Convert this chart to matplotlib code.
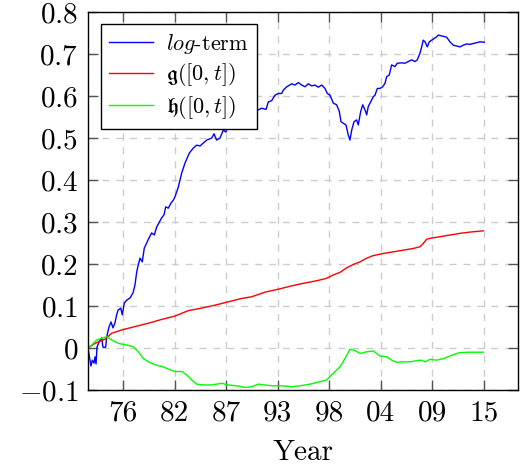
import matplotlib
matplotlib.use("Agg")
import matplotlib.pyplot as plt

plt.rcParams.update({
    "font.family": "serif", "font.serif": ["cmr10"], "mathtext.fontset": "cm",
    "axes.unicode_minus": False, "font.size": 21,
    "axes.linewidth": 1.0,
})

# log-term (blue)
log_year = [1972.20, 1972.52, 1972.67, 1972.85, 1972.96, 1973.07, 1973.17, 1973.39, 1973.68, 1973.82,
            1974.11, 1974.22, 1974.47, 1974.69, 1974.90, 1975.12, 1975.30, 1975.45, 1975.74, 1975.91,
            1976.13, 1976.39, 1976.74, 1977.07, 1977.28, 1977.47, 1977.64, 1977.83, 1978.07, 1978.29,
            1978.55, 1978.80, 1979.09, 1979.37, 1979.63, 1979.88, 1980.17, 1980.42, 1980.61, 1980.89,
            1981.18, 1981.43, 1981.61, 1981.97, 1982.34, 1982.69, 1983.16, 1983.59, 1983.96, 1984.32,
            1984.67, 1985.04, 1985.58, 1985.83, 1986.12, 1986.48, 1986.84, 1987.13, 1987.38, 1987.75,
            1988.64, 1989.72, 1990.62, 1990.99, 1991.46, 1991.71, 1992.07, 1992.43, 1992.79, 1993.15,
            1993.33, 1993.70, 1994.24, 1994.59, 1994.95, 1995.32, 1995.68, 1996.03, 1996.40, 1996.76,
            1997.11, 1997.48, 1997.84, 1998.09, 1998.38, 1998.74, 1999.10, 1999.39, 1999.57, 1999.82,
            2000.11, 2000.36, 2000.54, 2000.73, 2000.98, 2001.27, 2001.44, 2001.70, 2001.92, 2002.17,
            2002.35, 2002.52, 2002.78, 2003.06, 2003.25, 2003.50, 2003.79, 2004.08, 2004.33, 2004.51,
            2004.79, 2005.05, 2005.41, 2005.66, 2006.14, 2006.49, 2006.85, 2007.22, 2007.57, 2007.82,
            2008.12, 2008.30, 2008.47, 2008.66, 2008.91, 2009.12, 2009.38, 2009.63, 2009.92, 2010.10,
            2010.46, 2011.00, 2011.36, 2011.72, 2012.09, 2012.44, 2012.80, 2013.17, 2013.52, 2013.88,
            2014.25, 2014.61, 2015.07]
log_val = [0.000, -0.043, -0.029, -0.036, -0.021, -0.038, 0.002, 0.014, 0.024, 0.002,
           0.002, 0.026, 0.050, 0.062, 0.048, 0.060, 0.079, 0.090, 0.095, 0.079,
           0.107, 0.114, 0.119, 0.131, 0.150, 0.181, 0.198, 0.214, 0.205, 0.238,
           0.250, 0.262, 0.274, 0.269, 0.288, 0.298, 0.310, 0.317, 0.336, 0.333,
           0.345, 0.352, 0.360, 0.383, 0.417, 0.440, 0.464, 0.476, 0.483, 0.481,
           0.488, 0.495, 0.500, 0.510, 0.495, 0.500, 0.519, 0.514, 0.536, 0.555,
           0.562, 0.564, 0.567, 0.571, 0.568, 0.586, 0.589, 0.602, 0.606, 0.606,
           0.614, 0.622, 0.629, 0.626, 0.632, 0.626, 0.622, 0.629, 0.624, 0.626,
           0.621, 0.626, 0.618, 0.606, 0.602, 0.583, 0.579, 0.563, 0.539, 0.535,
           0.531, 0.507, 0.495, 0.519, 0.539, 0.543, 0.531, 0.563, 0.579, 0.567,
           0.555, 0.575, 0.586, 0.598, 0.602, 0.618, 0.618, 0.622, 0.630, 0.646,
           0.650, 0.674, 0.670, 0.678, 0.679, 0.678, 0.682, 0.686, 0.682, 0.686,
           0.702, 0.717, 0.733, 0.729, 0.717, 0.729, 0.733, 0.737, 0.741, 0.745,
           0.743, 0.740, 0.729, 0.721, 0.719, 0.717, 0.721, 0.724, 0.723, 0.725,
           0.727, 0.729, 0.728]

# g([0,t]) (red)
g_year = [1972.20, 1972.96, 1974.04, 1974.76, 1975.85, 1977.28, 1978.72, 1980.17, 1981.61, 1983.05,
          1984.50, 1985.94, 1987.38, 1988.83, 1989.91, 1991.35, 1992.79, 1994.24, 1995.49, 1996.22,
          1997.30, 1998.02, 1998.74, 1999.46, 2000.19, 2000.90, 2001.62, 2002.35, 2003.06, 2004.15,
          2005.23, 2006.31, 2007.39, 2008.12, 2008.47, 2008.84, 2009.20, 2010.28, 2011.36, 2012.44,
          2013.52, 2014.96]
g_val = [0.000, 0.011, 0.021, 0.035, 0.043, 0.051, 0.059, 0.068, 0.076, 0.089,
         0.095, 0.102, 0.110, 0.118, 0.122, 0.133, 0.140, 0.148, 0.154, 0.157,
         0.162, 0.166, 0.174, 0.180, 0.191, 0.199, 0.205, 0.214, 0.220, 0.225,
         0.229, 0.233, 0.237, 0.241, 0.249, 0.259, 0.261, 0.265, 0.269, 0.273,
         0.276, 0.279]

# h([0,t]) (green)
h_year = [1972.20, 1972.60, 1973.14, 1973.68, 1974.22, 1974.76, 1975.48, 1976.39, 1977.10, 1977.64,
          1978.18, 1978.72, 1979.45, 1980.35, 1981.07, 1981.61, 1982.34, 1982.88, 1983.42, 1983.96,
          1984.67, 1985.58, 1986.12, 1986.66, 1987.38, 1988.29, 1989.18, 1989.91, 1990.62, 1991.35,
          1992.07, 1993.15, 1994.24, 1995.13, 1996.22, 1997.30, 1998.02, 1998.38, 1998.92, 1999.46,
          2000.00, 2000.54, 2001.08, 2001.62, 2002.35, 2003.06, 2003.79, 2004.51, 2005.05, 2005.59,
          2006.31, 2007.03, 2007.76, 2008.30, 2008.66, 2009.20, 2009.92, 2010.64, 2011.36, 2012.09,
          2012.44, 2013.52, 2014.96]
h_val = [0.000, 0.007, 0.019, 0.023, 0.027, 0.019, 0.011, 0.007, 0.003, -0.009,
         -0.025, -0.033, -0.040, -0.045, -0.052, -0.056, -0.056, -0.064, -0.076, -0.086,
         -0.088, -0.088, -0.086, -0.084, -0.088, -0.090, -0.094, -0.092, -0.086, -0.088,
         -0.090, -0.090, -0.092, -0.090, -0.086, -0.080, -0.076, -0.068, -0.056, -0.045,
         -0.025, -0.003, -0.006, -0.013, -0.009, -0.007, -0.019, -0.021, -0.029, -0.034,
         -0.033, -0.033, -0.030, -0.029, -0.033, -0.027, -0.029, -0.025, -0.019, -0.013,
         -0.011, -0.010, -0.010]

xtick_pos = [1976.0, 1981.57, 1987.14, 1992.71, 1998.29, 2003.86, 2009.43, 2015.0]
xtick_lab = ["76", "82", "87", "93", "98", "04", "09", "15"]
ytick_pos = [-0.1, 0.0, 0.1, 0.2, 0.3, 0.4, 0.5, 0.6, 0.7, 0.8]
ytick_lab = ["$-0.1$", "$0$", "$0.1$", "$0.2$", "$0.3$", "$0.4$", "$0.5$", "$0.6$", "$0.7$", "$0.8$"]

fig = plt.figure(figsize=(5.22, 4.72), dpi=100)
ax = fig.add_axes([88/522, 82/472, 430/522, 378/472])

ax.plot(log_year, log_val, color="#0000ff", lw=1.0, label="$log$-term")
ax.plot(g_year, g_val, color="#ff0000", lw=1.0, label=r"$\mathfrak{g}([0,t])$")
ax.plot(h_year, h_val, color="#00ff00", lw=1.0, label=r"$\mathfrak{h}([0,t])$")

ax.set_xlim(1972.2, 2018.72)
ax.set_ylim(-0.1, 0.8)
ax.set_xticks(xtick_pos)
ax.set_xticklabels(xtick_lab)
ax.set_yticks(ytick_pos)
ax.set_yticklabels(ytick_lab)
ax.tick_params(direction="in", length=7, width=1.0, color="#555555", top=True, right=True,
               labelsize=21, pad=7)
ax.grid(True, color="#cccccc", ls=(0, (5, 5)), lw=1.0)
ax.set_axisbelow(True)
ax.set_xlabel("Year", fontsize=21, labelpad=10)

leg = ax.legend(loc="upper left", bbox_to_anchor=(0.03, 0.968), borderaxespad=0,
                fontsize=16, handlelength=2.0, labelspacing=0.25, fancybox=False,
                framealpha=1, edgecolor="black", borderpad=0.35, handletextpad=0.6)
leg.get_frame().set_linewidth(1.0)

fig.savefig("out.png", dpi=100)
